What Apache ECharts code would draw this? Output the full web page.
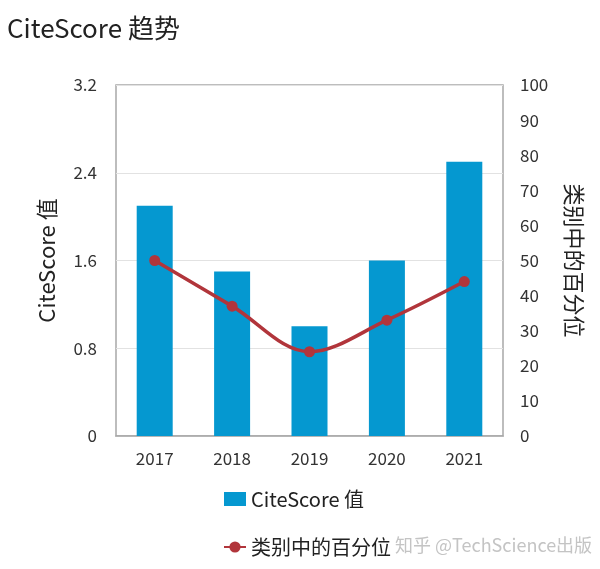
<!DOCTYPE html>
<html><head><meta charset="utf-8">
<script src="https://cdn.jsdelivr.net/npm/echarts@6/dist/echarts.min.js"></script>
<style>html,body{margin:0;padding:0;background:#fff}#c{width:600px;height:569px}</style>
</head><body><div id="c"></div>
<script>
var categories = ['2017','2018','2019','2020','2021'];
var citeScore = [2.1, 1.5, 1.0, 1.6, 2.5];
var percentile = [50, 37, 24, 33, 44];
var leftTicks = [0, 0.8, 1.6, 2.4, 3.2];
var rightTicks = [0,10,20,30,40,50,60,70,80,90,100];

var FONT = '"Noto Sans CJK SC", "Noto Sans", sans-serif';
var chart = echarts.init(document.getElementById('c'));
chart.setOption({
  animation: false,
  backgroundColor: '#fff',
  textStyle: {fontFamily: FONT},
  title: {text: 'CiteScore 趋势', left: 2, top: 10,
    textStyle: {fontFamily: FONT, fontSize: 26, fontWeight: 'normal', color: '#222'}},
  grid: {left: 116, right: 97, top: 85, bottom: 133, show: true, borderColor: '#a8a8a8', borderWidth: 1.5, containLabel: false},
  legend: {orient: 'vertical', left: 218, top: 484, itemGap: 28, itemWidth: 22, itemHeight: 14,
    textStyle: {fontFamily: FONT, fontSize: 20, color: '#222'},
    data: [{name: 'CiteScore 值', icon: 'rect'}, {name: '类别中的百分位'}]},
  xAxis: {type: 'category', data: categories,
    axisLine: {show: true, lineStyle: {color: '#a8a8a8', width: 1.5}},
    axisTick: {show: false},
    axisLabel: {fontFamily: FONT, fontSize: 17, color: '#333', margin: 14}},
  yAxis: [
    {type: 'value', min: 0, max: 3.2, interval: 0.8, position: 'left',
      name: 'CiteScore 值', nameLocation: 'middle', nameGap: 58, nameRotate: 90,
      nameTextStyle: {fontFamily: FONT, fontSize: 22, color: '#222'},
      axisLine: {show: false}, axisTick: {show: false},
      axisLabel: {fontFamily: FONT, fontSize: 17, color: '#333', margin: 19,
        formatter: function(v){ return v === 0 ? '0' : v.toFixed(1); }},
      splitLine: {show: true, lineStyle: {color: '#e2e2e2', width: 1}}},
    {type: 'value', min: 0, max: 100, interval: 10, position: 'right',
      name: '类别中的百分位', nameLocation: 'middle', nameGap: 60, nameRotate: -90,
      nameTextStyle: {fontFamily: FONT, fontSize: 22, color: '#222'},
      axisLine: {show: false}, axisTick: {show: false},
      axisLabel: {fontFamily: FONT, fontSize: 17, color: '#333', margin: 17},
      splitLine: {show: false}}
  ],
  series: [
    {name: 'CiteScore 值', type: 'bar', data: citeScore, yAxisIndex: 0, barWidth: 36,
      itemStyle: {color: '#0598d0'}},
    {name: '类别中的百分位', type: 'line', data: percentile, yAxisIndex: 1, smooth: 0.35,
      symbol: 'circle', symbolSize: 11,
      lineStyle: {color: '#b1353b', width: 3.5}, itemStyle: {color: '#b1353b'}}
  ],
  graphic: [{type: 'text', left: 395, top: 536,
    style: {text: '知乎 @TechScience出版', font: '18px ' + FONT, fill: '#c4c4c4'}}]
});
</script></body></html>
